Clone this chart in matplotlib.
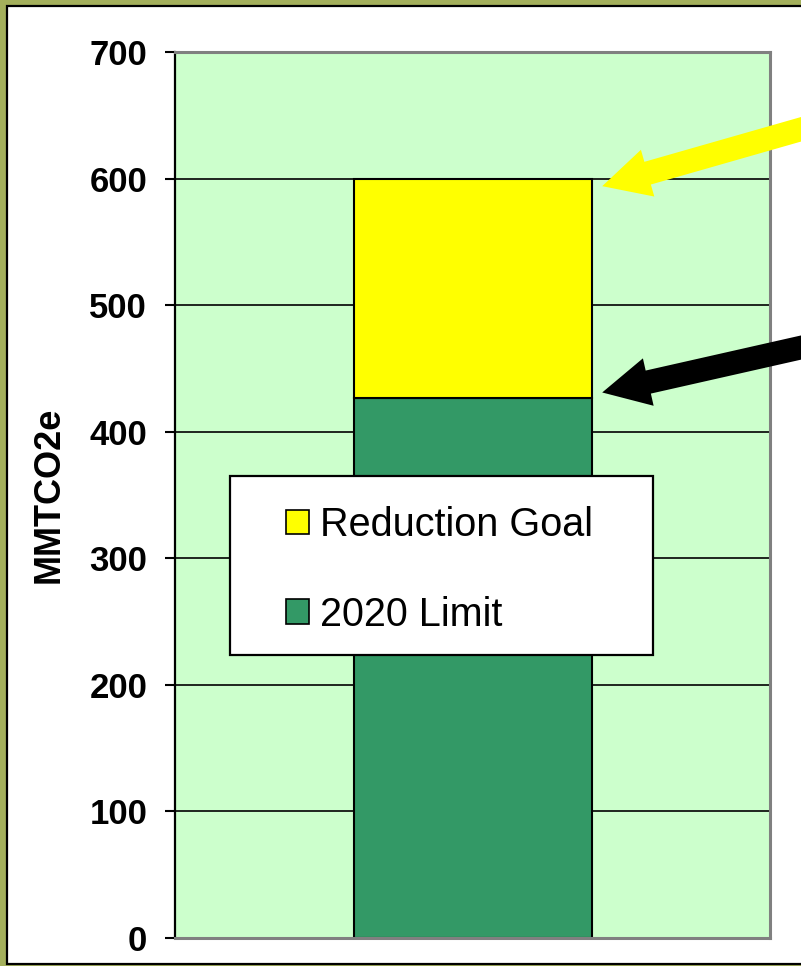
import matplotlib.pyplot as plt
from matplotlib.patches import Rectangle, Patch


# Data.
categories = ['2020']
limit_2020 = [427]
reduction_goal = [173]
series_names = ['Reduction Goal', '2020 Limit']
series_colors = ['#FFFF00', '#339966']
y_ticks = [0, 100, 200, 300, 400, 500, 600, 700]
y_label = 'MMTCO2e'

plt.rcParams['font.family'] = ['Liberation Sans', 'DejaVu Sans']

W, H = 801, 966
fig = plt.figure(figsize=(W / 100, H / 100), dpi=100)
fig.patch.set_facecolor('#A4B05C')

# White panel with black border inside the olive frame.
fig.patches.append(Rectangle((7 / W, 2 / H), 1.0, (H - 6) / H - 2 / H,
                             transform=fig.transFigure, facecolor='white',
                             edgecolor='black', linewidth=1.6, zorder=-1))

ax = fig.add_axes([175 / W, 28 / H, 595 / W, 886 / H])
ax.set_facecolor('#CCFFCC')

bar_w = 0.4
x = range(len(categories))
ax.bar(x, limit_2020, width=bar_w, color=series_colors[1],
       edgecolor='black', linewidth=1.5, zorder=3)
ax.bar(x, reduction_goal, width=bar_w, bottom=limit_2020,
       color=series_colors[0], edgecolor='black', linewidth=1.5, zorder=3)

ax.set_xlim(-0.5, 0.5)
ax.set_ylim(0, 700)
ax.set_yticks(y_ticks)
ax.set_xticks([])
ax.yaxis.grid(True, color='black', linewidth=1.2)
ax.set_axisbelow(True)
ax.tick_params(axis='y', direction='out', length=7, width=1.5, pad=13,
               labelsize=25)
for lab in ax.get_yticklabels():
    lab.set_fontweight('bold')

for side in ['top', 'right', 'bottom']:
    ax.spines[side].set_color('#808080')
    ax.spines[side].set_linewidth(2.2)
    ax.spines[side].set_zorder(4)
ax.spines['left'].set_color('black')
ax.spines['left'].set_linewidth(1.6)

ax.set_ylabel(y_label, fontsize=26, fontweight='bold', labelpad=16)

# Legend: white box drawn by hand, entries placed in its centre
box = Rectangle((55 / 595, 283 / 886), 423 / 595, 179 / 886,
                transform=ax.transAxes, facecolor='white',
                edgecolor='black', linewidth=1.6, zorder=5)
ax.add_patch(box)
handles = [Patch(facecolor=series_colors[0], edgecolor='black', linewidth=1.2),
           Patch(facecolor=series_colors[1], edgecolor='black', linewidth=1.2)]
leg = ax.legend(handles, series_names, loc='center',
                bbox_to_anchor=(0.444, 0.4155), fontsize=28.5,
                handlelength=0.58, handleheight=0.58, handletextpad=0.28,
                labelspacing=1.3, borderpad=0.2, frameon=False)
leg.set_zorder(6)

# Arrows pointing at the top of each segment, coming in from the right edge.
total = limit_2020[0] + reduction_goal[0]
arrow_style = 'simple,head_length=34,head_width=35,tail_width=17'
ax.annotate('', xy=(bar_w / 2 + 0.018, total - 6), xycoords='data',
            xytext=(830, 845), textcoords='figure pixels',
            annotation_clip=False,
            arrowprops=dict(arrowstyle=arrow_style, color='#FFFF00',
                            mutation_scale=1, linewidth=0,
                            shrinkA=0, shrinkB=0), zorder=7)
ax.annotate('', xy=(bar_w / 2 + 0.018, limit_2020[0] + 4), xycoords='data',
            xytext=(830, 625), textcoords='figure pixels',
            annotation_clip=False,
            arrowprops=dict(arrowstyle=arrow_style, color='black',
                            mutation_scale=1, linewidth=0,
                            shrinkA=0, shrinkB=0), zorder=7)

fig.savefig('out.png', dpi=100, facecolor=fig.get_facecolor())
